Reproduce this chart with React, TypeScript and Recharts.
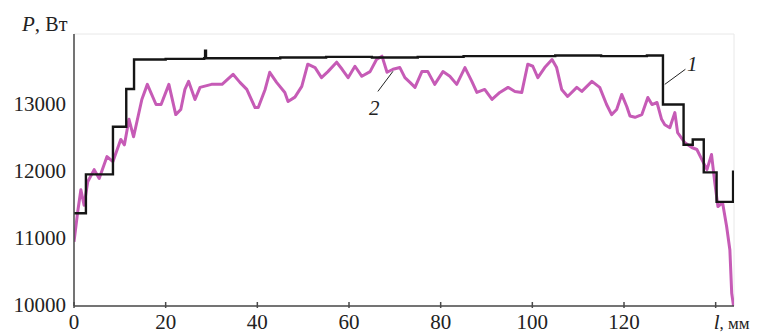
import React from "react";
import {
  LineChart,
  Line,
  XAxis,
  YAxis,
  CartesianGrid,
  ReferenceLine,
} from "recharts";

// curve 1 – stepped power setting, [l mm, P W]
const stepL = [0, 2.6, 8.5, 11.4, 13.1, 20, 28.4, 28.6, 28.8, 35, 45, 55, 65, 75, 85, 95, 105, 115, 125, 128.5, 133, 135, 137.4, 140.2, 143.8, 144];
const stepP = [11380, 11960, 12670, 13230, 13670, 13680, 13690, 13800, 13690, 13690, 13700, 13710, 13700, 13710, 13720, 13720, 13730, 13720, 13730, 13000, 12400, 12480, 11990, 11550, 12000, 12000];

// curve 2 – measured power
const measL = [
  0, 0.8, 1.5, 2.2, 3, 4.4, 5.5, 7.2, 8.5, 10.2, 11, 12, 13, 14.8, 16, 17.9, 19, 20.7, 22.2, 23.3,
  24.2, 25, 26.4, 27.5, 30, 32.3, 34.7, 36.2, 37.7, 39.5, 40.2, 41.7, 42.7, 44.2, 46, 46.7, 48.2,
  49.7, 51, 52.6, 54, 55.4, 57.3, 58.5, 59.8, 61.3, 62.8, 64.6, 66, 67.2, 68.3, 69.6, 71.1, 72.2,
  73.3, 74.4, 75.9, 77.2, 78.7, 80.5, 82, 83.5, 85.3, 86.8, 87.9, 89.6, 91.2, 92.9, 94.7, 96.2,
  97.7, 99, 100.1, 101.2, 102.7, 104.3, 105.3, 106.4, 107.7, 109.7, 110.8, 113, 114.7, 116.2,
  117.3, 118.4, 119.5, 120.6, 121.3, 122.4, 123.9, 125.2, 126.1, 127.2, 128.2, 128.9, 130, 131.1,
  131.7, 133.3, 134.8, 135.9, 137, 138.1, 139.1, 139.8, 140.5, 141.5, 142.4, 143.1, 143.5, 143.9,
];
const measP = [
  10955, 11400, 11730, 11500, 11850, 12030, 11900, 12225, 12150, 12480, 12400, 12780, 12520, 13075, 13300, 13000, 13000, 13300, 12850, 12925,
  13225, 13345, 13075, 13255, 13300, 13300, 13450, 13330, 13225, 12955, 12955, 13225, 13480, 13330, 13180, 13045, 13110,
  13270, 13600, 13550, 13400, 13490, 13630, 13525, 13400, 13570, 13420, 13490, 13670, 13720, 13480, 13525, 13550, 13400,
  13330, 13255, 13490, 13490, 13300, 13490, 13420, 13300, 13550, 13345, 13180, 13225, 13075, 13180, 13255, 13195,
  13180, 13600, 13570, 13400, 13550, 13670, 13550, 13225, 13120, 13255, 13195, 13345, 13255, 13000,
  12850, 12925, 13150, 12970, 12830, 12810, 12850, 13105, 13000, 13030, 12780, 12700, 12655, 12880,
  12580, 12430, 12360, 12330, 12180, 12030, 12255, 11840, 11480, 11540, 11180, 10835, 10190, 10000,
];

const xTicks = [0, 20, 40, 60, 80, 100, 120, 140];
const yTicks = [10000, 11000, 12000, 13000];

const stepData = stepL.map((l, i) => ({ l, p: stepP[i] }));
const measData = measL.map((l, i) => ({ l, p: measP[i] }));

const serif = "Liberation Serif, DejaVu Serif, serif";
const axisColor = "#4a4a4a";
const textColor = "#222";

const XTick = (props: any) => {
  const { x, y, payload } = props;
  const isLast = payload.value === 140;
  return (
    <g>
      <line x1={x} x2={x} y1={y} y2={y - 6} stroke={axisColor} strokeWidth={1.5} />
      {isLast ? (
        <text x={x - 2} y={y + 21} style={{ fontFamily: serif, fontSize: 21 }} fill={textColor} textAnchor="start">
          <tspan fontStyle="italic">l</tspan>
          <tspan style={{ fontSize: 17 }}>, мм</tspan>
        </text>
      ) : (
        <text x={x} y={y + 21} style={{ fontFamily: serif, fontSize: 21 }} fill={textColor} textAnchor="middle">
          {payload.value}
        </text>
      )}
    </g>
  );
};

const YTick = (props: any) => {
  const { x, y, payload } = props;
  return (
    <text x={x} y={y + 6} style={{ fontFamily: serif, fontSize: 21 }} fill={textColor} textAnchor="end">
      {payload.value}
    </text>
  );
};

export default function App() {
  return (
    <div style={{ position: "relative", width: 764, height: 335, background: "#fff" }}>
      <style>{"body{margin:0}"}</style>
      <LineChart
        width={764}
        height={335}
        margin={{ top: 34, right: 30, bottom: 0, left: 0 }}
      >
        <CartesianGrid stroke="#e8e8e8" strokeWidth={1} />
        <XAxis
          xAxisId="b"
          dataKey="l"
          type="number"
          domain={[0, 144]}
          ticks={xTicks}
          height={29}
          tickSize={0}
          tickLine={false}
          axisLine={{ stroke: axisColor, strokeWidth: 1.5 }}
          tick={<XTick />}
          allowDataOverflow
        />
        <XAxis
          xAxisId="t"
          orientation="top"
          dataKey="l"
          type="number"
          domain={[0, 144]}
          height={0}
          tick={false}
          tickLine={false}
          axisLine={{ stroke: axisColor, strokeWidth: 1.5 }}
        />
        <YAxis
          yAxisId="l"
          type="number"
          domain={[10000, 14050]}
          ticks={yTicks}
          width={74}
          tickSize={0}
          tickMargin={8}
          tickLine={false}
          axisLine={{ stroke: axisColor, strokeWidth: 1.5 }}
          tick={<YTick />}
          allowDataOverflow
        />
        <YAxis
          yAxisId="r"
          orientation="right"
          type="number"
          domain={[10000, 14050]}
          width={0}
          tick={false}
          tickLine={false}
          axisLine={{ stroke: axisColor, strokeWidth: 1.5 }}
        />
        <Line
          xAxisId="b"
          yAxisId="l"
          data={measData}
          dataKey="p"
          type="linear"
          stroke="#c65bb6"
          strokeWidth={3}
          strokeLinejoin="round"
          dot={false}
          isAnimationActive={false}
        />
        <Line
          xAxisId="b"
          yAxisId="l"
          data={stepData}
          dataKey="p"
          type="stepAfter"
          stroke="#151515"
          strokeWidth={2.4}
          dot={false}
          isAnimationActive={false}
        />
        <ReferenceLine
          xAxisId="b"
          yAxisId="l"
          segment={[{ x: 128.9, y: 13300 }, { x: 133.4, y: 13525 }]}
          stroke={textColor}
          strokeWidth={1}
        />
        <ReferenceLine
          xAxisId="b"
          yAxisId="l"
          segment={[{ x: 66.3, y: 13195 }, { x: 69.6, y: 13495 }]}
          stroke={textColor}
          strokeWidth={1}
        />
      </LineChart>
      <div
        style={{
          position: "absolute",
          left: 22,
          top: 12,
          fontFamily: serif,
          fontSize: 21,
          color: textColor,
          whiteSpace: "nowrap",
          lineHeight: "24px",
        }}
      >
        <i>P</i>, <span style={{ fontSize: 20 }}>Вт</span>
      </div>
      <div
        style={{
          position: "absolute",
          left: 687,
          top: 52,
          fontFamily: serif,
          fontStyle: "italic",
          fontSize: 21,
          color: textColor,
          lineHeight: "24px",
        }}
      >
        1
      </div>
      <div
        style={{
          position: "absolute",
          left: 369,
          top: 96,
          fontFamily: serif,
          fontStyle: "italic",
          fontSize: 21,
          color: textColor,
          lineHeight: "24px",
        }}
      >
        2
      </div>
    </div>
  );
}
